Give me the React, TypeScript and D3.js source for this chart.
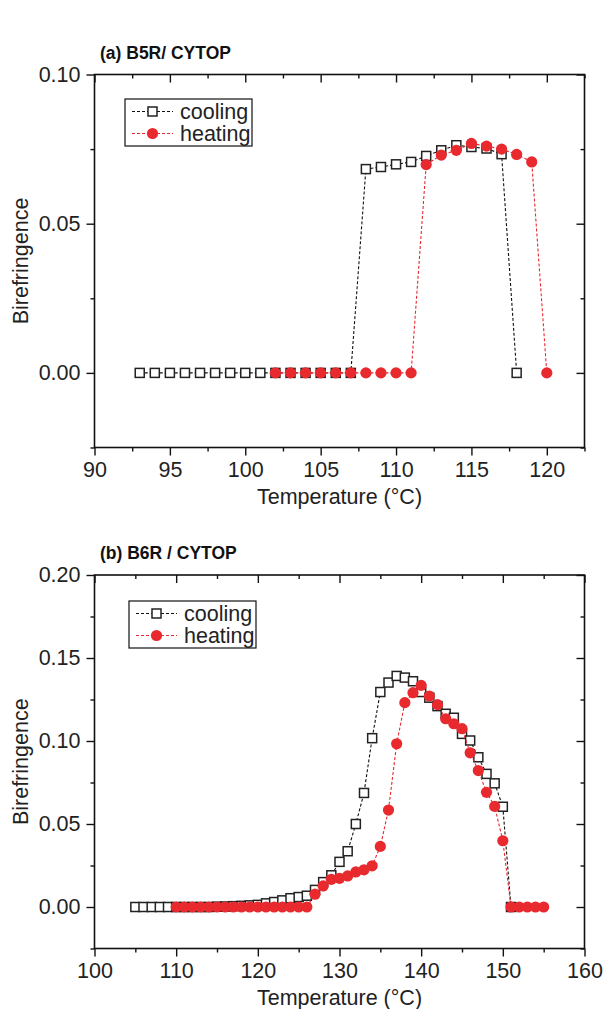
import React, { useRef, useEffect } from 'react';
import * as d3 from 'd3';

// panel (a) B5R / CYTOP
const coolingTempA = [93, 94, 95, 96, 97, 98, 99, 100, 101, 102, 103, 104, 105, 106, 107, 108, 109, 110, 111, 112, 113, 114, 115, 116, 117, 118];
const coolingValA = [0, 0, 0, 0, 0, 0, 0, 0, 0, 0, 0, 0, 0, 0, 0, 0.0683, 0.069, 0.0699, 0.0707, 0.0727, 0.0746, 0.0763, 0.0757, 0.0752, 0.0733, 0];
const heatingTempA = [102, 103, 104, 105, 106, 107, 108, 109, 110, 111, 112, 113, 114, 115, 116, 117, 118, 119, 120];
const heatingValA = [0, 0, 0, 0, 0, 0, 0, 0, 0, 0, 0.0698, 0.073, 0.0746, 0.0769, 0.076, 0.075, 0.0732, 0.0707, 0];

// panel (b) B6R / CYTOP
const coolingTempB = [105, 106, 107, 108, 109, 110, 111, 112, 113, 114, 115, 116, 117, 118, 119, 120, 121, 122, 123, 124, 125, 126, 127, 128, 129, 130, 131, 132, 133, 134, 135, 136, 137, 138, 139, 140, 141, 142, 143, 144, 145, 146, 147, 148, 149, 150, 151];
const coolingValB = [0, 0, 0, 0, 0, 0, 0, 0, 0, 0, 0.0002, 0.0003, 0.0005, 0.0007, 0.001, 0.0013, 0.0022, 0.003, 0.004, 0.0053, 0.006, 0.0068, 0.0103, 0.015, 0.0191, 0.0272, 0.0336, 0.05, 0.0687, 0.1017, 0.1295, 0.1352, 0.1392, 0.1382, 0.136, 0.1295, 0.1261, 0.121, 0.1164, 0.114, 0.1043, 0.1003, 0.0902, 0.0802, 0.0745, 0.0604, 0];
const heatingTempB = [110, 111, 112, 113, 114, 115, 116, 117, 118, 119, 120, 121, 122, 123, 124, 125, 126, 127, 128, 129, 130, 131, 132, 133, 134, 135, 136, 137, 138, 139, 140, 141, 142, 143, 144, 145, 146, 147, 148, 149, 150, 151, 152, 153, 154, 155];
const heatingValB = [0, 0, 0, 0, 0, 0, 0, 0, 0, 0, 0, 0, 0, 0, 0, 0, 0, 0.0077, 0.0127, 0.0167, 0.0173, 0.0187, 0.0211, 0.0224, 0.0248, 0.0365, 0.0584, 0.0983, 0.1231, 0.1291, 0.1335, 0.1271, 0.1219, 0.1134, 0.1104, 0.1074, 0.0929, 0.0822, 0.0691, 0.0606, 0.0399, 0, 0, 0, 0, 0];

// ticks
const xMajorA = [90, 95, 100, 105, 110, 115, 120];
const xMinorA = [92.5, 97.5, 102.5, 107.5, 112.5, 117.5, 122.5];
const yMajorA = [0, 0.05, 0.1];
const yMinorA = [-0.025, 0.025, 0.075];
const xMajorB = [100, 110, 120, 130, 140, 150, 160];
const xMinorB = [105, 115, 125, 135, 145, 155];
const yMajorB = [0, 0.05, 0.1, 0.15, 0.2];
const yMinorB = [-0.025, 0.025, 0.075, 0.125, 0.175];

const seriesNames = ['cooling', 'heating'];

const FONT = '"Liberation Sans", Arial, sans-serif';
const FS = 21.5;
const RED = '#e8292e';
const SQ = 9; // square marker side
const R = 5.6; // circle marker radius

const Panel = (props) => {
  const { top, title, xDomain, yDomain, xMajor, xMinor, yMajor, yMinor, cool, heat, legend } = props;
  const ref = useRef();
  const left = 94.5, right = 584.5, ptop = top, bottom = top + props.height;

  useEffect(() => {
    const g = d3.select(ref.current);
    g.selectAll('*').remove();

    const x = d3.scaleLinear().domain(xDomain).range([left, right]);
    const y = d3.scaleLinear().domain(yDomain).range([bottom, ptop]);
    const fmt = d3.format('.2f');

    const axis = (gen, tx, ty, ticks, size, labels) => {
      const a = g.append('g').attr('transform', `translate(${tx},${ty})`)
        .call(gen.tickValues(ticks).tickSize(size).tickSizeOuter(0).tickPadding(6)
          .tickFormat(labels ? labels : () => ''));
      a.select('.domain').remove();
      a.selectAll('line').attr('stroke', '#111').attr('stroke-width', 1.4);
      a.selectAll('text').attr('font-family', FONT).attr('font-size', FS).attr('fill', '#222');
      return a;
    };

    // left & bottom: outward, top & right: inward
    axis(d3.axisLeft(y), left, 0, yMajor, 8, fmt);
    axis(d3.axisLeft(y), left, 0, yMinor, 4, null);
    axis(d3.axisBottom(x), 0, bottom, xMajor, 8, d3.format('d'));
    axis(d3.axisBottom(x), 0, bottom, xMinor, 4, null);
    axis(d3.axisTop(x), 0, ptop, xMajor, -8, null);
    axis(d3.axisTop(x), 0, ptop, xMinor, -4, null);
    axis(d3.axisRight(y), right, 0, yMajor, -8, null);
    axis(d3.axisRight(y), right, 0, yMinor, -4, null);

    g.append('rect').attr('x', left).attr('y', ptop).attr('width', right - left).attr('height', bottom - ptop)
      .attr('fill', 'none').attr('stroke', '#111').attr('stroke-width', 1.6);

    const line = d3.line().x(d => x(d[0])).y(d => y(d[1]));

    const coolData = d3.zip(cool[0], cool[1]);
    const heatData = d3.zip(heat[0], heat[1]);

    g.append('path').attr('d', line(coolData)).attr('fill', 'none')
      .attr('stroke', '#111').attr('stroke-width', 1.1).attr('stroke-dasharray', '3,2');
    g.selectAll('.sq').data(coolData).join('rect').attr('class', 'sq')
      .attr('x', d => x(d[0]) - SQ / 2).attr('y', d => y(d[1]) - SQ / 2)
      .attr('width', SQ).attr('height', SQ)
      .attr('fill', 'white').attr('stroke', '#222').attr('stroke-width', 1.5);

    g.append('path').attr('d', line(heatData)).attr('fill', 'none')
      .attr('stroke', RED).attr('stroke-width', 1.1).attr('stroke-dasharray', '3,2');
    g.selectAll('.ci').data(heatData).join('circle').attr('class', 'ci')
      .attr('cx', d => x(d[0])).attr('cy', d => y(d[1])).attr('r', R)
      .attr('fill', RED);

    // legend
    const lg = g.append('g').attr('transform', `translate(${legend[0]},${legend[1]})`);
    lg.append('rect').attr('x', 0).attr('y', 0).attr('width', 127).attr('height', 47)
      .attr('fill', 'white').attr('stroke', '#111').attr('stroke-width', 1.2);
    seriesNames.forEach((name, i) => {
      const cy = 12.5 + i * 22;
      const col = i === 0 ? '#111' : RED;
      lg.append('line').attr('x1', 7).attr('x2', 48).attr('y1', cy).attr('y2', cy)
        .attr('stroke', col).attr('stroke-width', 1.1).attr('stroke-dasharray', '3,2');
      if (i === 0) {
        lg.append('rect').attr('x', 27.5 - SQ / 2).attr('y', cy - SQ / 2).attr('width', SQ).attr('height', SQ)
          .attr('fill', 'white').attr('stroke', '#222').attr('stroke-width', 1.5);
      } else {
        lg.append('circle').attr('cx', 27.5).attr('cy', cy).attr('r', R).attr('fill', RED);
      }
      lg.append('text').attr('x', 55).attr('y', cy + 7).text(name)
        .attr('font-family', FONT).attr('font-size', FS).attr('fill', '#222');
    });

    g.append('text').attr('x', 100).attr('y', ptop - 16).text(title)
      .attr('font-family', FONT).attr('font-size', 17.5).attr('font-weight', 'bold').attr('fill', '#111');
    g.append('text').attr('x', (left + right) / 2).attr('y', bottom + 56).attr('text-anchor', 'middle')
      .text('Temperature (°C)').attr('font-family', FONT).attr('font-size', FS).attr('fill', '#222');
    g.append('text').attr('transform', `translate(28,${(ptop + bottom) / 2}) rotate(-90)`)
      .attr('text-anchor', 'middle').text('Birefringence')
      .attr('font-family', FONT).attr('font-size', FS).attr('fill', '#222');
  }, []);

  return <g ref={ref} />;
};

export default function App() {
  return (
    <svg width={605} height={1009} style={{ position: 'absolute', left: 0, top: 0, background: 'white' }}>
      <Panel top={74.5} height={373} title="(a) B5R/ CYTOP" xDomain={[90, 122.5]} yDomain={[-0.025, 0.1]}
        xMajor={xMajorA} xMinor={xMinorA} yMajor={yMajorA} yMinor={yMinorA}
        cool={[coolingTempA, coolingValA]} heat={[heatingTempA, heatingValA]} legend={[125, 99]} />
      <Panel top={575} height={373.5} title="(b) B6R / CYTOP" xDomain={[100, 160]} yDomain={[-0.025, 0.2]}
        xMajor={xMajorB} xMinor={xMinorB} yMajor={yMajorB} yMinor={yMinorB}
        cool={[coolingTempB, coolingValB]} heat={[heatingTempB, heatingValB]} legend={[129, 601]} />
    </svg>
  );
}
